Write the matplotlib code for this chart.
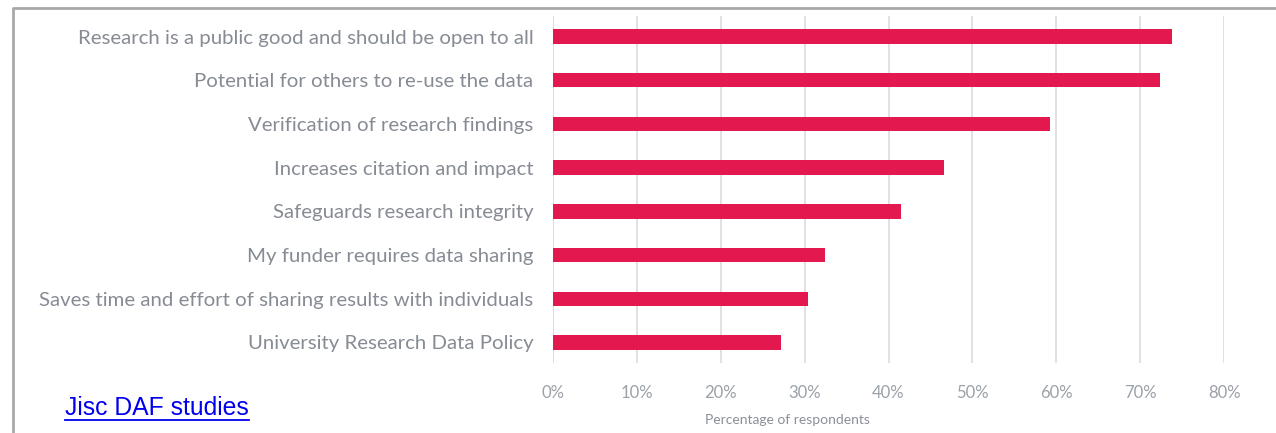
import matplotlib
matplotlib.use("Agg")
import matplotlib.pyplot as plt
from matplotlib.lines import Line2D
from matplotlib.ticker import PercentFormatter

categories = [
    "Research is a public good and should be open to all",
    "Potential for others to re-use the data",
    "Verification of research findings",
    "Increases citation and impact",
    "Safeguards research integrity",
    "My funder requires data sharing",
    "Saves time and effort of sharing results with individuals",
    "University Research Data Policy",
]
shares = [73.8, 72.4, 59.2, 46.6, 41.5, 32.4, 30.4, 27.2]
x_ticks = [0, 10, 20, 30, 40, 50, 60, 70, 80]

BAR = "#e2184f"
TEXT = "#868b94"
GRID = "#dcdcdc"

fig = plt.figure(figsize=(12.76, 4.33), dpi=100)
fig.patch.set_facecolor("white")

ax = fig.add_axes([0.4334, 0.1617, 0.5259, 0.8014])
ypos = list(range(len(categories)))
ax.barh(ypos, shares, height=0.33, color=BAR, zorder=3)
ax.set_ylim(len(categories) - 0.53, -0.47)
ax.set_xlim(0, 80)
ax.set_xticks(x_ticks)
ax.xaxis.set_major_formatter(PercentFormatter(decimals=0))
ax.set_yticks(ypos)
ax.set_yticklabels(categories, fontsize=14.7, color=TEXT, family="Lato")
ax.tick_params(axis="y", length=0, pad=14)
ax.tick_params(axis="x", length=0, pad=16, labelsize=12, labelcolor="#9ba1a9")
for lbl in ax.get_xticklabels():
    lbl.set_family("Lato")
ax.grid(axis="x", color=GRID, linewidth=1.2, zorder=0)
for s in ax.spines.values():
    s.set_visible(False)
ax.axvline(0, color=GRID, linewidth=1.2, zorder=1)

fig.text(787 / 1276, 1 - 420 / 433, "Percentage of respondents", ha="center",
         va="center", fontsize=10, color="#8a9099", family="Lato")

# Source link, underlined to the width of its text
link = fig.text(65 / 1276, 1 - 408 / 433, "Jisc DAF studies", ha="left", va="center",
                fontsize=17.8, color="#0000ee", family="Liberation Sans")
fig.canvas.draw()
bb = link.get_window_extent().transformed(fig.transFigure.inverted())
fig.add_artist(Line2D([bb.x0, bb.x1], [1 - 420 / 433, 1 - 420 / 433],
                      transform=fig.transFigure, color="#0000ee", linewidth=1.3))

# Slide frame
fig.add_artist(Line2D([13 / 1276, 13 / 1276, 1.0], [0.0, 1 - 8 / 433, 1 - 8 / 433],
                      transform=fig.transFigure, color="#a8a8a8", linewidth=2))

fig.savefig("out.png", dpi=100, facecolor="white")
